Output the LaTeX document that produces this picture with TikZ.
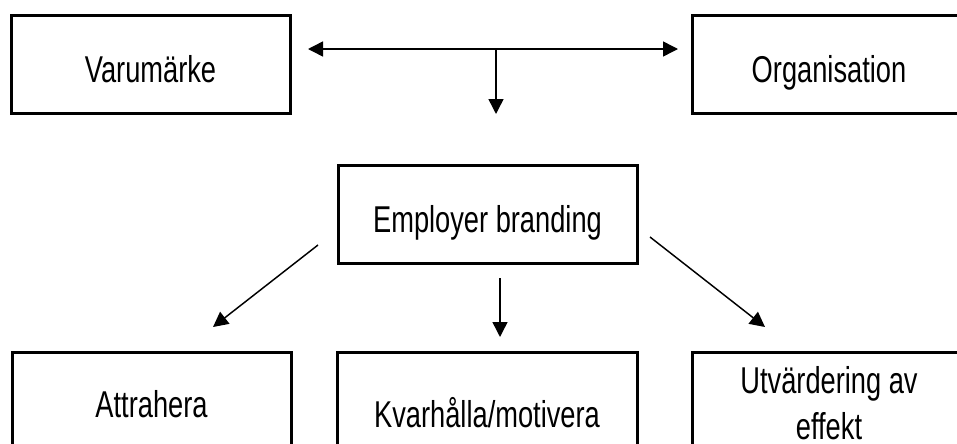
\documentclass[tikz,border=0pt]{standalone}
\usepackage{fontspec}
\setmainfont{Liberation Sans}[FakeStretch=0.73]
\usetikzlibrary{arrows.meta}
\begin{document}
\begin{tikzpicture}[x=0.75pt,y=-0.75pt,
  box/.style={draw=black, line width=2.25pt, minimum width=#1*0.75pt, minimum height=98*0.75pt, inner sep=0pt, align=center,
    font=\fontsize{28}{35}\selectfont, text height=27pt, text depth=0pt},
  conn/.style={line width=1.1pt, -{Triangle[length=11.25pt,width=11.25pt]}},
  conn2/.style={line width=1.1pt, {Triangle[length=11.25pt,width=11.25pt]}-{Triangle[length=11.25pt,width=11.25pt]}}]
\clip (0,0) rectangle (957,443);
\node[box=279] (var) at (150.5,64) {Varumärke};
\node[box=274] (org) at (829,64.5) {Organisation};
\node[box=299] (eb) at (487.5,214.5) {Employer branding};
\node[box=279, minimum height=110*0.75pt, text height=15pt] (att) at (151.5,407) {Attrahera};
\node[box=300, minimum height=110*0.75pt, text height=30pt] (kva) at (487,407) {Kvarhålla/motivera};
\node[box=274, minimum height=110*0.75pt, text height=, text depth=6pt] (utv) at (829,407) {Utvärdering av\\effekt};
\coordinate (hl) at (308,49);
\coordinate (hr) at (678,49);
\coordinate (hm) at (496,49);
\coordinate (hd) at (496,114);
\coordinate (la) at (318,245);
\coordinate (lb) at (213,327);
\coordinate (ma) at (500,278);
\coordinate (mb) at (500,337);
\coordinate (ra) at (650,237);
\coordinate (rb) at (765,327);
\draw[conn2] (hl) -- (hr);
\draw[conn] (hm) -- (hd);
\draw[conn] (la) -- (lb);
\draw[conn] (ma) -- (mb);
\draw[conn] (ra) -- (rb);
\end{tikzpicture}
\end{document}
